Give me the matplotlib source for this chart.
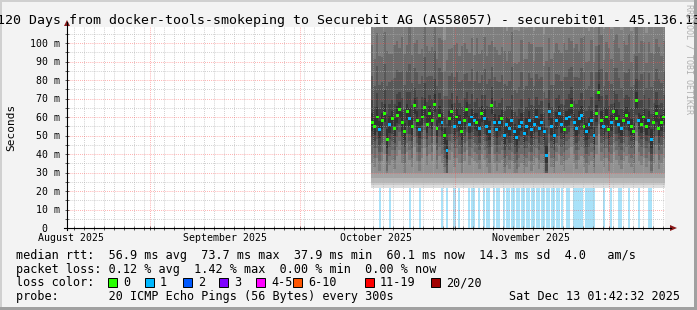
import numpy as np
import matplotlib
matplotlib.use("Agg")
import matplotlib.pyplot as plt
from matplotlib.patches import Rectangle, Polygon

# ---------------- data ----------------
title = "120 Days from docker-tools-smokeping to Securebit AG (AS58057) - securebit01 - 45.136.13"
y_label = "Seconds"
y_tick_values = [0, 10, 20, 30, 40, 50, 60, 70, 80, 90, 100]
y_tick_labels = ["0  ", "10 m", "20 m", "30 m", "40 m", "50 m", "60 m", "70 m", "80 m", "90 m", "100 m"]
x_label_days = [0.76, 31.8, 62.0, 93.1]          # days after graph start
x_labels = ["August 2025", "September 2025", "October 2025", "November 2025"]
month_start_days = [16.66, 46.76, 77.9, 108.8]   # Sep 1, Oct 1, Nov 1, Dec 1

first_sample_day = 61.0
sample_step_days = 0.5

median_ms = [57, 55, 60, 53, 58, 62, 48, 56, 59, 54,
             61, 64, 57, 52, 63, 59, 55, 66, 58, 53,
             60, 65, 56, 62, 58, 67, 54, 61, 57, 50,
             42, 59, 63, 55, 60, 57, 52, 58, 64, 56,
             60, 58, 57, 54, 62, 59, 55, 52, 66, 57,
             53, 57, 59, 50, 56, 54, 58, 52, 49, 55,
             57, 51, 55, 58, 53, 56, 60, 54, 57, 52,
             39, 63, 55, 50, 58, 62, 56, 53, 59, 60,
             66, 57, 54, 59, 61, 55, 52, 56, 58, 50,
             62, 73, 58, 55, 60, 53, 57, 63, 59, 56,
             54, 58, 61, 57, 55, 52, 69, 58, 56, 60,
             55, 58, 48, 57, 62, 54, 57, 60]
loss_count = [0, 0, 0, 1, 0, 0, 0, 1, 0, 0,
              0, 0, 0, 0, 0, 1, 0, 0, 0, 1,
              0, 0, 0, 0, 0, 0, 0, 0, 1, 0,
              1, 0, 0, 1, 0, 1, 0, 0, 0, 1,
              1, 1, 0, 1, 0, 1, 1, 1, 0, 1,
              1, 1, 0, 1, 1, 1, 1, 1, 1, 1,
              1, 1, 1, 1, 1, 1, 1, 1, 1, 1,
              1, 1, 1, 1, 1, 1, 1, 0, 1, 1,
              0, 1, 1, 1, 1, 0, 1, 1, 1, 1,
              0, 0, 0, 1, 0, 0, 1, 0, 0, 1,
              1, 0, 0, 1, 0, 0, 0, 1, 0, 0,
              0, 1, 1, 0, 0, 0, 0, 0]
smoke_spread = [1.10, 0.95, 1.20, 1.05, 0.90, 1.15, 1.25, 1.00, 0.92, 1.18,
                1.05, 0.88, 1.22, 1.10, 0.95, 1.30, 1.02, 0.90, 1.15, 1.08,
                0.97, 1.20, 1.12, 0.88, 1.05, 1.25, 0.98, 1.10, 1.18, 0.92,
                1.28, 1.00, 0.90, 1.15, 1.05, 0.95, 1.22, 1.10, 0.86, 1.02,
                1.12, 0.94, 1.20, 1.06, 0.90, 1.16, 1.00, 1.24, 0.92, 1.08,
                1.14, 0.96, 1.02, 1.20, 0.90, 1.10, 1.26, 0.98, 1.04, 0.92,
                1.18, 1.06, 0.95, 1.12, 1.22, 0.90, 1.00, 1.15, 1.08, 0.94,
                1.35, 1.05, 0.96, 1.18, 1.10, 0.90, 1.02, 1.24, 0.98, 1.12,
                0.92, 1.06, 1.20, 0.95, 1.10, 1.28, 1.00, 0.90, 1.15, 1.04,
                0.96, 1.12, 1.22, 0.94, 1.06, 1.16, 0.90, 1.02, 1.20, 1.08,
                0.95, 1.14, 1.00, 1.26, 0.92, 1.10, 1.04, 0.96, 1.18, 1.06,
                0.90, 1.12, 1.22, 0.98, 1.05, 1.15, 0.94, 1.08]
# typical sorted-ping profile of the consolidated smoke
floor_pings = [21.5, 23.0, 24.5, 27.0, 30.0]      # lowest 5 pings (ms)
below_median = [22.0, 17.0, 12.0, 8.0, 4.5]       # pings 6-10, ms below median
above_median = [4.5, 11.0, 23.0, 38.0, 56.0]      # pings 11-15, ms above median (x spread)
offscale_ping = 130.0                              # pings 16-20 exceed the scale

legend_rows = [
    "median rtt:  56.9 ms avg  73.7 ms max  37.9 ms min  60.1 ms now  14.3 ms sd  4.0   am/s",
    "packet loss: 0.12 % avg  1.42 % max  0.00 % min  0.00 % now",
    "loss color:",
    "probe:       20 ICMP Echo Pings (56 Bytes) every 300s",
]
loss_legend_labels = ["0", "1", "2", "3", "4-5", "6-10", "11-19", "20/20"]
loss_legend_colors = ["#26ff00", "#00b8ff", "#0059ff", "#7e00ff",
                      "#ff00ff", "#ff5500", "#ff0000", "#a10000"]
timestamp = "Sat Dec 13 01:42:32 2025"
watermark = "RRDTOOL / TOBI OETIKER"

# ---------------- layout helpers ----------------
W, H = 697, 310
MONO = "DejaVu Sans Mono"
fig = plt.figure(figsize=(W / 100, H / 100), dpi=100, facecolor="#f3f3f3")


def P(x, y):
    return (x / W, 1 - y / H)


AX_L, AX_R, AX_T, AX_B = 67, 665, 27, 228
PX_PER_MS = 1.85
YMAX = (AX_B - AX_T) / PX_PER_MS
ax = fig.add_axes([AX_L / W, 1 - AX_B / H, (AX_R - AX_L) / W, (AX_B - AX_T) / H])
ax.set_facecolor("white")
ax.set_xlim(0, 120)
ax.set_ylim(0, YMAX)
for s in ax.spines.values():
    s.set_visible(False)

# ---------------- data marks ----------------
n = len(median_ms)
days = first_sample_day + sample_step_days * np.arange(n)
med = np.array(median_ms, float)
spr = np.array(smoke_spread, float)
loss = np.array(loss_count)

pings = np.zeros((20, n))
for k in range(5):
    pings[k] = floor_pings[k]
for k in range(5):
    pings[5 + k] = med - below_median[k]
for k in range(5):
    pings[10 + k] = med + above_median[k] * spr
pings[15:] = offscale_ping
pings = np.maximum.accumulate(pings, axis=0)

edges = np.append(days, days[-1] + sample_step_days)

# loss bars (full height, covered by smoke)
lossy = loss > 0
ax.bar(days[lossy] + sample_step_days / 2, YMAX, width=0.42, bottom=0,
       color="#a9e2f9", linewidth=0, zorder=1)

# smoke
for k in range(10):
    lvl = int(190 / 10 * (10 - (k + 1))) + 50
    col = "#%02x%02x%02x" % (lvl, lvl, lvl)
    lo = np.append(pings[k], pings[k][-1])
    hi = np.append(pings[19 - k], pings[19 - k][-1])
    ax.fill_between(edges, lo, hi, step="post", color=col, linewidth=0, zorder=2)

# grid (drawn over the smoke like rrdtool)
dot = (0, (1, 1.5))
for v in np.arange(5, YMAX, 10):
    ax.axhline(v, color="#b0b0b0", lw=0.6, ls=dot, alpha=0.8, zorder=3)
for v in np.arange(1.5, 120, 2):
    ax.axvline(v, color="#b0b0b0", lw=0.6, ls=dot, alpha=0.8, zorder=3)
for v in np.arange(10, YMAX, 10):
    ax.axhline(v, color="#ff4a4a", lw=0.6, ls=dot, alpha=0.6, zorder=3)
for v in month_start_days:
    ax.axvline(v, color="#ff4a4a", lw=0.6, ls=dot, alpha=0.6, zorder=3)

# median markers coloured by loss
mcol = [loss_legend_colors[min(int(l), 1)] for l in loss]
ax.scatter(days + sample_step_days / 2, med, marker="s", s=4.5, c=mcol,
           linewidths=0, zorder=4)

# ---------------- axes decoration ----------------
ax.set_yticks(y_tick_values)
ax.set_yticklabels([])
ax.set_yticks(np.arange(5, YMAX, 10), minor=True)
ax.tick_params(axis="y", which="both", direction="inout", length=3, width=0.7,
               color="#555555")
ax.set_xticks(x_label_days)
ax.set_xticklabels(x_labels, fontsize=7.1, family=MONO)
ax.tick_params(axis="x", which="major", length=0, pad=3.8)
ax.set_xticks(list(month_start_days) + list(np.arange(1.5, 120, 2)), minor=True)
ax.tick_params(axis="x", which="minor", direction="inout", length=3, width=0.7,
               color="#555555")

# y labels (monospace, right edge at x=60px)
adv_y = 0.602 * 7.1 * 100 / 72
for v, lab in zip(y_tick_values, y_tick_labels):
    py = AX_B - v * PX_PER_MS
    fig.text(*P(60 - len(lab) * adv_y, py + 3.7), lab, fontsize=7.1, family=MONO,
             ha="left", va="baseline", color="black")

# axis lines with arrows
fig.add_artist(plt.Line2D([AX_L / W, AX_L / W], [1 - (AX_B + 2) / H, 1 - 22 / H],
                          transform=fig.transFigure, color="black", lw=0.8))
fig.add_artist(plt.Line2D([(AX_L - 3) / W, 671 / W], [1 - AX_B / H, 1 - AX_B / H],
                          transform=fig.transFigure, color="black", lw=0.8))
fig.add_artist(Polygon([P(AX_L - 3, 26), P(AX_L + 3, 26), P(AX_L, 20)], closed=True,
                       transform=fig.transFigure, color="#8b1a1a", lw=0))
fig.add_artist(Polygon([P(670, AX_B - 3), P(670, AX_B + 3), P(677, AX_B)], closed=True,
                       transform=fig.transFigure, color="#8b1a1a", lw=0))

# ---------------- texts ----------------
fig.text(*P(-3, 24), title, fontsize=9.5, family=MONO, ha="left", va="baseline")
fig.text(*P(11, 127), y_label, fontsize=8, family=MONO, rotation=90,
         ha="center", va="center")
fig.text(*P(689, 4), watermark, fontsize=6, family=MONO, rotation=270,
         ha="center", va="top", color="#b0b0b0")

baselines = [258.5, 272.7, 286.2, 300.0]
for row, by in zip(legend_rows, baselines):
    fig.text(*P(16, by), row, fontsize=8.5, family=MONO, ha="left", va="baseline")
fig.text(*P(680, baselines[3]), timestamp, fontsize=8.5, family=MONO,
         ha="right", va="baseline")

box_x = [108, 145, 183, 219, 256, 293, 365, 431]
for bx, lab, col in zip(box_x, loss_legend_labels, loss_legend_colors):
    fig.add_artist(Rectangle(P(bx, 286.5), 9 / W, 9 / H, transform=fig.transFigure,
                             facecolor=col, edgecolor="black", lw=0.7))
    fig.text(*P(bx + 15, baselines[2]), lab, fontsize=8.5, family=MONO,
             ha="left", va="baseline")

# 3D frame
fig.add_artist(Rectangle((0, 1 - 2 / H), 1, 2 / H, transform=fig.transFigure,
                         facecolor="#d0d0d0", lw=0))
fig.add_artist(Rectangle((0, 0), 2 / W, 1, transform=fig.transFigure,
                         facecolor="#d0d0d0", lw=0))
fig.add_artist(Rectangle((0, 0), 1, 3 / H, transform=fig.transFigure,
                         facecolor="#a0a0a0", lw=0))
fig.add_artist(Rectangle((1 - 3 / W, 0), 3 / W, 1, transform=fig.transFigure,
                         facecolor="#a0a0a0", lw=0))

fig.savefig("out.png", dpi=100, facecolor=fig.get_facecolor())
